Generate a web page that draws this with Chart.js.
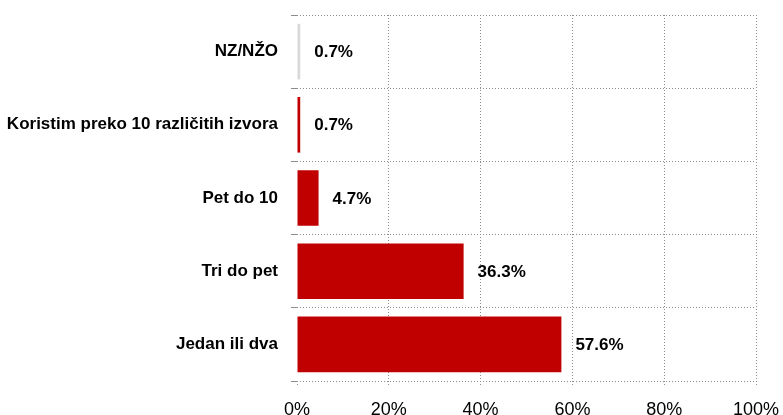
<!DOCTYPE html>
<html>
<head>
<meta charset="utf-8">
<script src="https://cdn.jsdelivr.net/npm/chart.js@4/dist/chart.umd.min.js"></script>
<style>
  html, body { margin: 0; padding: 0; background: #fff; }
  #wrap { width: 783px; height: 415px; }
</style>
</head>
<body>
<div id="wrap"><canvas id="barChart" width="783" height="415"></canvas></div>
<script>
var categorias = ['NZ/NŽO', 'Koristim preko 10 različitih izvora', 'Pet do 10', 'Tri do pet', 'Jedan ili dva'];
var valores = [0.7, 0.7, 4.7, 36.3, 57.6];
var colores = ['#D9D9D9', '#C00000', '#C00000', '#C00000', '#C00000'];
var ticksX = [0, 20, 40, 60, 80, 100];

// etiquetas de valor al final de cada barra
var etiquetas = {
  id: 'etiquetas',
  afterDatasetsDraw: function(chart) {
    var ctx = chart.ctx;
    var meta = chart.getDatasetMeta(0);
    ctx.save();
    ctx.font = 'bold 17px "Liberation Sans", Arial, sans-serif';
    ctx.fillStyle = '#000';
    ctx.textAlign = 'left';
    ctx.textBaseline = 'middle';
    meta.data.forEach(function(bar, i) {
      ctx.fillText(valores[i].toFixed(1) + '%', bar.x + 14, bar.y + 1);
    });
    ctx.restore();
  }
};

var grisGrid = '#8c8c8c';

new Chart(document.getElementById('barChart').getContext('2d'), {
  type: 'bar',
  data: {
    labels: categorias,
    datasets: [{
      data: valores,
      backgroundColor: colores,
      borderWidth: 0,
      barPercentage: 0.76,
      categoryPercentage: 1
    }]
  },
  options: {
    indexAxis: 'y',
    responsive: false,
    animation: false,
    layout: { padding: { top: 15, left: 0, right: 27, bottom: 0 } },
    plugins: { legend: { display: false }, tooltip: { enabled: false } },
    scales: {
      x: {
        min: 0,
        max: 100,
        afterBuildTicks: function(scale) {
          scale.ticks = ticksX.map(function(v) { return { value: v }; });
        },
        afterFit: function(scale) {
          scale.height = 34;
          scale.paddingLeft = 0;
          scale.paddingRight = 0;
        },
        border: { display: false, dash: [1, 2] },
        grid: {
          color: function(c) { return c.index === 0 ? 'rgba(0,0,0,0)' : grisGrid; },
          tickColor: grisGrid,
          tickLength: 6,
          lineWidth: 1,
          tickBorderDash: [1, 2]
        },
        ticks: {
          padding: 12,
          color: '#000',
          font: { family: '"Liberation Sans", Arial, sans-serif', size: 18 },
          callback: function(v) { return v + '%'; }
        }
      },
      y: {
        afterFit: function(scale) {
          scale.width = 297;
          scale.paddingTop = 0;
          scale.paddingBottom = 0;
        },
        border: { display: false, dash: [1, 2] },
        grid: {
          offset: true,
          color: grisGrid,
          tickColor: grisGrid,
          tickLength: 6
        },
        ticks: {
          padding: 13,
          color: '#000',
          font: { family: '"Liberation Sans", Arial, sans-serif', size: 17, weight: 'bold' }
        }
      }
    }
  },
  plugins: [etiquetas]
});
</script>
</body>
</html>
